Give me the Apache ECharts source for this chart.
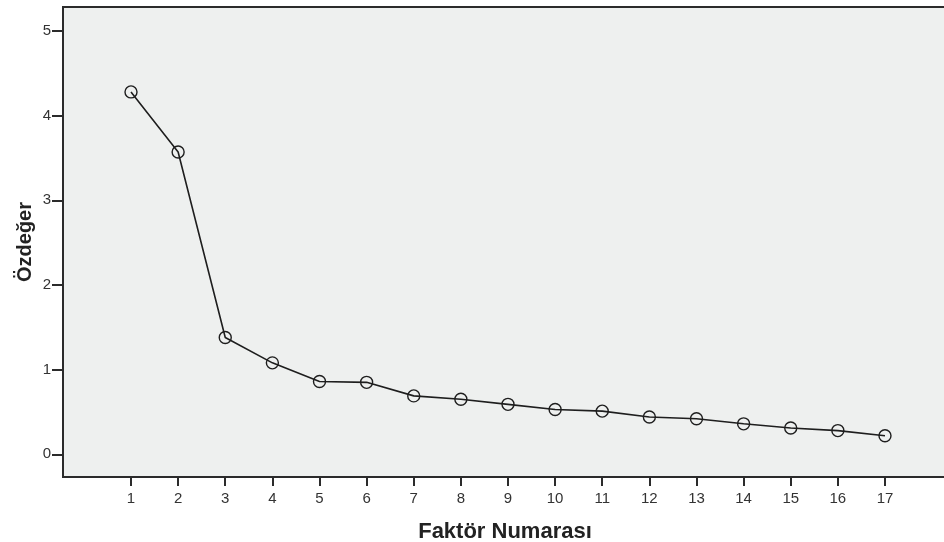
<!DOCTYPE html>
<html><head><meta charset="utf-8">
<script src="https://cdn.jsdelivr.net/npm/echarts@6/dist/echarts.min.js"></script>
<style>html,body{margin:0;padding:0;background:#fff}#c{width:944px;height:542px}</style>
</head><body><div id="c"></div>
<script>
const factors = [1,2,3,4,5,6,7,8,9,10,11,12,13,14,15,16,17];
const eigenvalues = [4.28,3.57,1.38,1.08,0.86,0.85,0.69,0.65,0.59,0.53,0.51,0.44,0.42,0.36,0.31,0.28,0.22];
const yTicks = [0,1,2,3,4,5];
const xTitle = 'Faktör Numarası';
const yTitle = 'Özdeğer';

const chart = echarts.init(document.getElementById('c'), null, {renderer:'canvas'});
const font = 'Liberation Sans, Arial, sans-serif';
chart.setOption({
  animation:false,
  grid:{left:63, top:7, right:-3, bottom:65, show:true, backgroundColor:'#eef0ef', borderColor:'#2b2b2b', borderWidth:2, containLabel:false, outerBoundsMode:'none'},
  xAxis:{
    type:'value', min:-0.443, max:18.316,
    name:xTitle, nameLocation:'middle', nameGap:44, nameMoveOverlap:false,
    nameTextStyle:{fontFamily:font, fontWeight:'bold', fontSize:22, color:'#222'},
    axisLine:{show:true, onZero:false, lineStyle:{color:'#2b2b2b', width:2}},
    axisTick:{show:true, inside:false, customValues:factors, length:9, lineStyle:{color:'#2b2b2b', width:2}},
    axisLabel:{customValues:factors, fontFamily:font, fontSize:15, color:'#333', margin:14},
    splitLine:{show:false}
  },
  yAxis:{
    type:'value', min:-0.268, max:5.283,
    name:yTitle, nameLocation:'middle', nameGap:28, nameRotate:90, nameMoveOverlap:false,
    nameTextStyle:{fontFamily:font, fontWeight:'bold', fontSize:20, color:'#222'},
    axisLine:{show:true, onZero:false, lineStyle:{color:'#2b2b2b', width:2}},
    axisTick:{show:true, inside:false, customValues:yTicks, length:11, lineStyle:{color:'#2b2b2b', width:2}},
    axisLabel:{customValues:yTicks, fontFamily:font, fontSize:15, color:'#333', margin:12},
    splitLine:{show:false}
  },
  series:[{
    type:'line',
    data:factors.map((f,i)=>[f, eigenvalues[i]]),
    symbol:'circle', symbolSize:12,
    lineStyle:{color:'#1e1e1e', width:1.6},
    itemStyle:{color:'rgba(0,0,0,0)', borderColor:'#1e1e1e', borderWidth:1.4},
    z:3
  }]
});
</script></body></html>
